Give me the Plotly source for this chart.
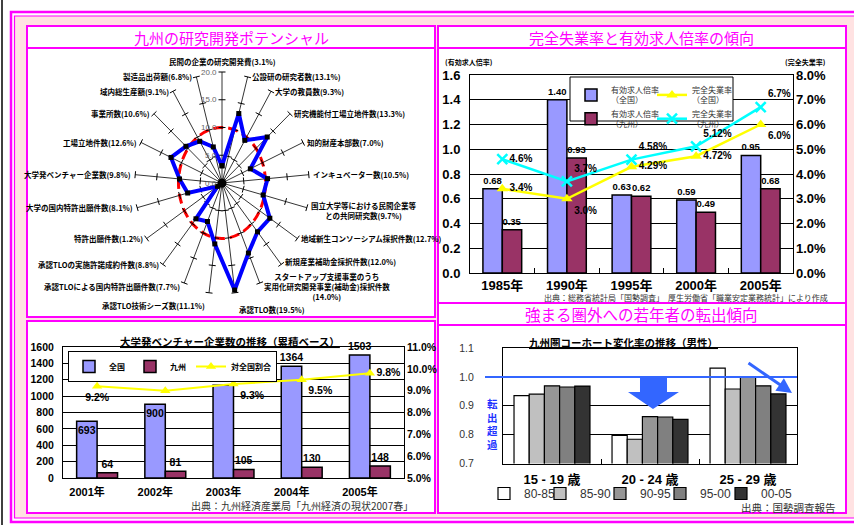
import math
import plotly.graph_objects as go

W, H = 854, 525
def px(x): return x / W
def py(y): return 1 - y / H

MAG = "#FF00FF"
PINK = "#FFE2E2"
ARROW_BLUE = "#3366FF"
FONT_NUM = "'Liberation Sans', Arial, 'Noto Sans CJK JP', sans-serif"
FONT_JP = "'Noto Sans CJK JP', 'Noto Sans', sans-serif"

# ---------------- data ----------------
# radar: 九州の研究開発ポテンシャル (全国比 %)
radar_names = [
    "民間の企業の研究開発費", "公設研の研究者数", "大学の教員数", "研究機能付工場立地件数",
    "知的財産本部数", "インキュベーター数", "国立大学等における民間企業等<br>との共同研究数",
    "地域新生コンソーシアム採択件数", "新規産業補助金採択件数",
    "スタートアップ支援事業のうち<br>実用化研究開発事業(補助金)採択件数<br>",
    "承認TLO数", "承認TLO技術シーズ数", "承認TLOによる国内特許出願件数",
    "承認TLOの実施許諾成約件数", "特許出願件数", "大学の国内特許出願件数",
    "大学発ベンチャー企業数", "工場立地件数", "事業所数", "域内総生産額", "製造品出荷額",
]
radar_values = [3.1, 13.1, 9.3, 13.3, 7.0, 10.5, 9.7, 12.7, 12.0, 14.0, 19.5,
                11.1, 7.7, 8.8, 1.2, 8.1, 9.8, 12.6, 10.6, 9.1, 6.8]
radar_ref = 10.0
radar_ticks = [0, 5, 10, 15, 20]

# 完全失業率と有効求人倍率
years_jobs = ["1985年", "1990年", "1995年", "2000年", "2005年"]
jobs_ratio_all = [0.68, 1.40, 0.63, 0.59, 0.95]
jobs_ratio_kyushu = [0.35, 0.93, 0.62, 0.49, 0.68]
unemp_all = [3.4, 3.0, 4.29, 4.72, 6.0]
unemp_kyushu = [4.6, 3.7, 4.58, 5.12, 6.7]

# 大学発ベンチャー企業数
years_vent = ["2001年", "2002年", "2003年", "2004年", "2005年"]
vent_all = [693, 900, 1132, 1364, 1503]
vent_kyushu = [64, 81, 105, 130, 148]
vent_share = [9.2, 9.0, 9.3, 9.5, 9.8]

# コーホート変化率 (男性)
age_groups = ["15 - 19 歳", "20 - 24 歳", "25 - 29 歳"]
periods = ["80-85", "85-90", "90-95", "95-00", "00-05"]
cohort_80_85 = [0.935, 0.797, 1.030]
cohort_85_90 = [0.940, 0.784, 0.958]
cohort_90_95 = [0.969, 0.862, 1.000]
cohort_95_00 = [0.965, 0.861, 0.969]
cohort_00_05 = [0.968, 0.853, 0.941]
cohort_colors = ["#FFFFFF", "#C0C0C0", "#969696", "#808080", "#333333"]

fig = go.Figure()

# ---------------- radar (elliptical, as in the picture) ----------------
CX, CY = 222, 183
RX, RY = 87 / 20, 111 / 20      # px per unit horizontally / vertically
n = len(radar_values)
ang = [2 * math.pi * i / n for i in range(n)]
rmax = radar_ticks[-1]

sx, sy = [], []
for a in ang:
    sx += [0, rmax * math.sin(a), None]
    sy += [0, rmax * math.cos(a), None]
fig.add_trace(go.Scatter(x=sx, y=sy, mode="lines", line=dict(color="black", width=0.8),
                         xaxis="x4", yaxis="y6", showlegend=False, hoverinfo="skip"))

tx, ty, tang = [], [], []
for a in ang:
    phi = math.degrees(math.atan2(RX * math.sin(a), RY * math.cos(a)))
    for t in radar_ticks[1:]:
        tx.append(t * math.sin(a)); ty.append(t * math.cos(a)); tang.append(phi)
fig.add_trace(go.Scatter(x=tx, y=ty, mode="markers",
                         marker=dict(symbol="line-ew", size=5, angle=tang,
                                     line=dict(color="black", width=1)),
                         xaxis="x4", yaxis="y6", showlegend=False, hoverinfo="skip"))

bx = [v * math.sin(a) for v, a in zip(radar_values, ang)]
by = [v * math.cos(a) for v, a in zip(radar_values, ang)]
fig.add_trace(go.Scatter(x=bx + bx[:1], y=by + by[:1], mode="lines+markers",
                         line=dict(color="#0000FF", width=4),
                         marker=dict(symbol="square", size=5, color="black"),
                         xaxis="x4", yaxis="y6", showlegend=False, hoverinfo="skip"))
fig.add_trace(go.Scatter(x=[0], y=[0], mode="markers", marker=dict(size=9, color="black"),
                         xaxis="x4", yaxis="y6", showlegend=False, hoverinfo="skip"))

# ---------------- top-right: jobs ratio & unemployment ----------------
bold_bar = dict(family=FONT_NUM, size=9.5, color="black", weight="bold")
bold10tr = dict(family=FONT_NUM, size=10, color="black", weight="bold")
fig.add_trace(go.Bar(x=years_jobs, y=jobs_ratio_all, name="有効求人倍率<br>（全国）",
                     marker=dict(color="#9999FF", line=dict(color="black", width=1.5)),
                     text=[f"{v:.2f}" for v in jobs_ratio_all], textposition="outside",
                     textangle=0, constraintext="none", textfont=bold_bar, cliponaxis=False,
                     xaxis="x", yaxis="y", legend="legend", hoverinfo="skip"))
fig.add_trace(go.Bar(x=years_jobs, y=jobs_ratio_kyushu, name="有効求人倍率<br>（九州）",
                     marker=dict(color="#993366", line=dict(color="black", width=1.5)),
                     text=[f"{v:.2f}" for v in jobs_ratio_kyushu], textposition="outside",
                     textangle=0, constraintext="none", textfont=bold_bar, cliponaxis=False,
                     xaxis="x", yaxis="y", legend="legend", hoverinfo="skip"))
fig.add_trace(go.Scatter(x=years_jobs, y=unemp_all, name="完全失業率<br>（全国）",
                         mode="lines+markers+text", line=dict(color="#FFFF00", width=2.5),
                         marker=dict(symbol="triangle-up", size=10, color="#FFFF00"),
                         text=[f"{v}%" for v in unemp_all],
                         textposition=["middle right", "bottom right", "middle right",
                                       "middle right", "bottom right"],
                         textfont=bold10tr, cliponaxis=False, xaxis="x", yaxis="y2",
                         legend="legend4", hoverinfo="skip"))
fig.add_trace(go.Scatter(x=years_jobs, y=unemp_kyushu, name="完全失業率<br>（九州）",
                         mode="lines+markers+text", line=dict(color="#00FFFF", width=2.5),
                         marker=dict(symbol="x-thin", size=10, color="#00FFFF",
                                     line=dict(color="#00FFFF", width=2.5)),
                         text=[f"{v}%" for v in unemp_kyushu],
                         textposition=["middle right", "top right", "top right",
                                       "top right", "top right"],
                         textfont=bold10tr, cliponaxis=False, xaxis="x", yaxis="y2",
                         legend="legend4", hoverinfo="skip"))

# ---------------- bottom-left: university ventures ----------------
bold10 = dict(family=FONT_NUM, size=10.5, color="black", weight="bold")
fig.add_trace(go.Bar(x=years_vent, y=vent_all, name="全国",
                     marker=dict(color="#9999FF", line=dict(color="black", width=1.5)),
                     text=[str(v) for v in vent_all],
                     textposition=["inside", "inside", "outside", "outside", "outside"],
                     insidetextanchor="end", constraintext="none", textangle=0,
                     textfont=bold10, insidetextfont=bold10, outsidetextfont=bold10,
                     cliponaxis=False, xaxis="x2", yaxis="y3", legend="legend2",
                     hoverinfo="skip"))
fig.add_trace(go.Bar(x=years_vent, y=vent_kyushu, name="九州",
                     marker=dict(color="#993366", line=dict(color="black", width=1.5)),
                     text=[str(v) for v in vent_kyushu], textposition="outside",
                     constraintext="none", textangle=0, textfont=bold10, cliponaxis=False,
                     xaxis="x2", yaxis="y3", legend="legend2", hoverinfo="skip"))
fig.add_trace(go.Scatter(x=years_vent, y=vent_share, name="対全国割合",
                         mode="lines+markers+text", line=dict(color="#FFFF00", width=2),
                         marker=dict(symbol="triangle-up", size=9, color="#FFFF00"),
                         text=[f"{v:.1f}%" for v in vent_share],
                         textposition=["bottom center", "top center", "bottom right",
                                       "bottom right", "middle right"],
                         textfont=bold10, cliponaxis=False, xaxis="x2", yaxis="y4",
                         legend="legend2", hoverinfo="skip"))

# ---------------- bottom-right: cohort change ----------------
cohort_series = [cohort_80_85, cohort_85_90, cohort_90_95, cohort_95_00, cohort_00_05]
cohort_legends = ["legend3", "legend5", "legend6", "legend7", "legend8"]
BW = 0.155
for k, (p, vals, col) in enumerate(zip(periods, cohort_series, cohort_colors)):
    fig.add_trace(go.Bar(x=age_groups, y=vals, name=p, width=BW,
                         offset=-BW * len(periods) / 2 + k * BW,
                         marker=dict(color=col, line=dict(color="black", width=1.2)),
                         xaxis="x3", yaxis="y5", legend=cohort_legends[k],
                         hoverinfo="skip"))

# ---------------- frames & panels ----------------
shapes = []
def rect(x0, y0, x1, y1, fill=None, color=MAG, width=2, layer="below"):
    d = dict(type="rect", xref="paper", yref="paper", x0=px(x0), x1=px(x1),
             y0=py(y1), y1=py(y0), line=dict(color=color, width=width), layer=layer)
    if fill:
        d["fillcolor"] = fill
    shapes.append(d)

shapes.append(dict(type="line", xref="paper", yref="paper", x0=px(2), x1=px(2), y0=0, y1=1,
                   line=dict(color="black", width=1.5), layer="below"))
rect(11, 12, 900, 522, width=2.5)
rect(14.5, 16, 900, 518, fill=PINK, width=1.2)
for (x0, y0, x1, y1) in [(27, 26, 435, 48), (27, 48, 435, 317), (27, 321, 435, 513),
                         (438, 26, 846, 48), (438, 48, 846, 303), (438, 303, 846, 325),
                         (438, 325, 846, 513)]:
    rect(x0, y0, x1, y1, fill="white", width=2)
# legend box of the top-right chart
rect(570, 77, 733, 121, fill="white", color="black", width=1, layer="above")

# red dashed reference ellipse (r = 10) on radar
shapes.append(dict(type="circle", xref="x4", yref="y6", x0=-radar_ref, x1=radar_ref,
                   y0=-radar_ref, y1=radar_ref,
                   line=dict(color="#FF0000", width=3, dash="10px,5px"), layer="below"))
# 1.0 reference line (cohort)
shapes.append(dict(type="line", xref="paper", yref="y5", x0=px(485), x1=px(797), y0=1.0, y1=1.0,
                   line=dict(color=ARROW_BLUE, width=2), layer="above"))
# big down arrow
pts = [(640, 377), (667, 377), (667, 392), (679, 392), (653, 409), (628, 392), (640, 392)]
path = "M " + " L ".join(f"{px(x):.5f},{py(y):.5f}" for x, y in pts) + " Z"
shapes.append(dict(type="path", xref="paper", yref="paper", path=path,
                   fillcolor=ARROW_BLUE, line=dict(color=ARROW_BLUE, width=0), layer="above"))

# ---------------- annotations ----------------
ann = []
def text(x, y, s, size=10, color="black", xanchor="center", yanchor="middle",
         family=FONT_JP, weight="normal", align="center"):
    ann.append(dict(x=px(x), y=py(y), xref="paper", yref="paper", text=s, showarrow=False,
                    xanchor=xanchor, yanchor=yanchor, align=align,
                    font=dict(size=size, color=color, family=family, weight=weight)))

# panel titles
text(231, 37, "九州の研究開発ポテンシャル", size=15, color=MAG)
text(641, 37, "完全失業率と有効求人倍率の傾向", size=15, color=MAG)
text(641, 314, "強まる圏外への若年者の転出傾向", size=15.5, color=MAG)

# radar labels
for i, (nm, v, a) in enumerate(zip(radar_names, radar_values, ang)):
    s = math.sin(a)
    lab = f"{nm}({v:.1f}%)"
    xa = "center" if abs(s) < 0.05 else ("left" if s > 0 else "right")
    ya, ysh = "middle", 0
    if i == 0:
        ya, ysh = "bottom", 3
    elif i == 8:
        ysh = 3
    elif i == 9:
        ysh = -3
    elif i == 10:
        ya, ysh = "top", -9
    elif i == 11:
        ya, ysh = "top", -5
    elif i in (6, 12):
        ysh = -3
    xsh = 0 if xa == "center" else (2 if xa == "left" else -2)
    ann.append(dict(x=rmax * s, y=rmax * math.cos(a), xref="x4", yref="y6", text=lab,
                    showarrow=False, xanchor=xa, yanchor=ya, xshift=xsh, yshift=ysh,
                    align="center",
                    font=dict(size=7.5, color="black", family=FONT_JP, weight="bold")))
for t in radar_ticks:
    ann.append(dict(x=0, y=t, xref="x4", yref="y6", text=f"{t:.1f}", showarrow=False,
                    xanchor="right", yanchor="middle", xshift=-3,
                    font=dict(size=8, color="#666666", family=FONT_NUM)))

# top-right texts
text(443, 62, "(有効求人倍率)", size=7, xanchor="left", weight="bold")
text(828, 62, "(完全失業率)", size=7, xanchor="right", weight="bold")
text(830, 297, "出典：総務省統計局「国勢調査」　厚生労働省「職業安定業務統計」により作成",
     size=8, color="#333333", xanchor="right")

# bottom-left texts
text(230, 341, "<u>大学発ベンチャー企業数の推移（累積ベース）</u>", size=10.5, weight="bold")
text(415, 505, "出典：九州経済産業局「九州経済の現状2007春」", size=10, color="#333333",
     xanchor="right")

# bottom-right texts
text(623, 342, "<u>九州圏コーホート変化率の推移（男性）</u>", size=10.5, weight="bold")
text(492, 424, "転<br>出<br>超<br>過", size=10.5, color="#2233FF", weight="bold")
text(838, 507, "出典：国勢調査報告", size=10.5, color="#333333", xanchor="right")
ann.append(dict(x=px(792), y=py(393), xref="paper", yref="paper", text="", showarrow=True,
                ax=-45, ay=-31, arrowcolor=ARROW_BLUE, arrowwidth=3, arrowhead=2,
                arrowsize=1))

# ---------------- layout ----------------
tick_bold = lambda s: dict(family=FONT_NUM, size=s, color="black", weight="bold")
rx_lo, rx_hi = (27 - CX) / RX, (435 - CX) / RX
ry_lo, ry_hi = -(317 - CY) / RY, (CY - 48) / RY
leg_font_tr = dict(family=FONT_JP, size=8, color="#333333")
leg_font_br = dict(family=FONT_NUM, size=12, color="#333333")

layout = dict(
    width=W, height=H, autosize=False,
    margin=dict(l=0, r=0, t=0, b=0, pad=0, autoexpand=False),
    paper_bgcolor="white", plot_bgcolor="rgba(0,0,0,0)",
    barmode="group", bargap=0.4, bargroupgap=0,
    font=dict(family=FONT_NUM, size=10, color="black"),
    shapes=shapes, annotations=ann, hovermode=False,
    # top-right
    xaxis=dict(domain=[px(470), px(793)], anchor="y", type="category", showline=True,
               linecolor="black", linewidth=1, mirror=True, ticks="inside",
               tickson="boundaries", ticklen=5, tickcolor="black", showgrid=False,
               tickfont=tick_bold(13)),
    yaxis=dict(domain=[py(273), py(75)], anchor="x", range=[0, 1.6], dtick=0.2,
               tickformat=".1f", showgrid=True, gridcolor="black", gridwidth=1,
               showline=True, linecolor="black", mirror=True, zeroline=False,
               ticklabelstandoff=6, tickfont=tick_bold(13)),
    yaxis2=dict(overlaying="y", side="right", anchor="x", range=[0, 8], dtick=1,
                tickformat=".1f", ticksuffix="%", showgrid=False, zeroline=False,
                ticklabelstandoff=2, tickfont=tick_bold(13)),
    # bottom-left
    xaxis2=dict(domain=[px(63), px(404)], anchor="y3", type="category", showline=True,
                linecolor="black", mirror=True, showgrid=False, ticklabelshift=-10,
                ticklabelstandoff=4, tickfont=tick_bold(11)),
    yaxis3=dict(domain=[py(478), py(347)], anchor="x2", range=[0, 1600], dtick=200,
                showgrid=True, gridcolor="black", gridwidth=1, showline=True,
                linecolor="black", mirror=True, zeroline=False, ticklabelstandoff=6,
                tickfont=tick_bold(10.5)),
    yaxis4=dict(overlaying="y3", side="right", anchor="x2", range=[5, 11], dtick=1,
                tickformat=".1f", ticksuffix="%", showgrid=False, zeroline=False,
                ticklabelstandoff=2, tickfont=tick_bold(10.5)),
    # bottom-right
    xaxis3=dict(domain=[px(503), px(797)], anchor="y5", type="category", showline=True,
                linecolor="black", mirror=True, showgrid=False, ticks="inside",
                tickson="boundaries", ticklen=5, tickcolor="black",
                ticklabelstandoff=4, tickfont=tick_bold(13)),
    yaxis5=dict(domain=[py(463.5), py(348)], anchor="x3", range=[0.7, 1.1], dtick=0.1,
                tickformat=".1f", showgrid=True, gridcolor="black", gridwidth=1,
                showline=True, linecolor="black", mirror=True, zeroline=False,
                ticklabelstandoff=26,
                tickfont=dict(family=FONT_NUM, size=10.5, color="#333333")),
    # radar
    xaxis4=dict(domain=[px(27), px(435)], anchor="y6", range=[rx_lo, rx_hi], visible=False),
    yaxis6=dict(domain=[py(317), py(48)], anchor="x4", range=[ry_lo, ry_hi], visible=False),
    legend=dict(x=px(571), y=py(78), xanchor="left", yanchor="top", orientation="v",
                bgcolor="rgba(0,0,0,0)", borderwidth=0, font=leg_font_tr,
                tracegroupgap=0, itemwidth=30),
    legend4=dict(x=px(652), y=py(78), xanchor="left", yanchor="top", orientation="v",
                 bgcolor="rgba(0,0,0,0)", borderwidth=0, font=leg_font_tr,
                 tracegroupgap=0, itemwidth=30),
    legend2=dict(x=px(68), y=py(351), xanchor="left", yanchor="top", orientation="h",
                 bgcolor="white", bordercolor="black", borderwidth=1,
                 font=dict(family=FONT_JP, size=8, color="black", weight="bold"),
                 itemwidth=30),
)
for lg, lx in zip(cohort_legends, [484, 540, 600, 660, 721]):
    layout[lg] = dict(x=px(lx), y=py(479), xanchor="left", yanchor="top", orientation="h",
                      bgcolor="rgba(0,0,0,0)", borderwidth=0, font=leg_font_br, itemwidth=30)
fig.update_layout(**layout)

fig.write_html("out.html", config={"displayModeBar": False})
